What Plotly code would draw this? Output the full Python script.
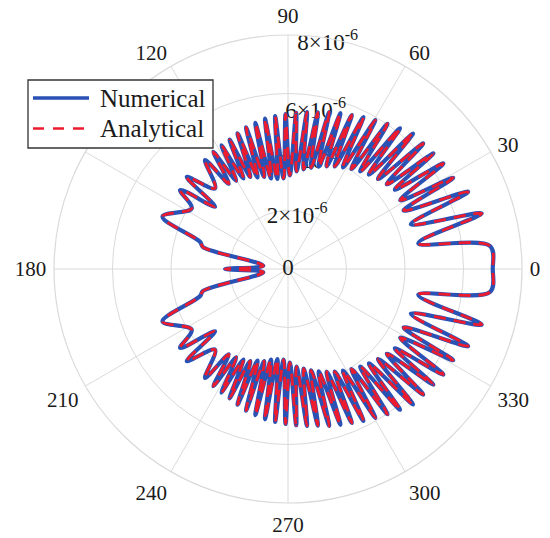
import plotly.graph_objects as go

# Turning points of the far-field pattern over the upper half-plane (deg, units of 1e-6)
theta_upper = [0, 6.5, 11.2, 16.0, 20.0, 23.2, 26.8, 28.9, 31.5, 34.2, 36.6, 38.5, 40.6,
               42.9, 45.0, 47.3, 49.4, 51.5, 53.5, 55.6, 57.6, 59.6, 61.6, 63.6, 65.5,
               67.5, 69.4, 71.4, 73.3, 75.3, 77.2, 79.2, 81.1, 83.1, 85.0, 87.0, 88.9,
               90.9, 92.8, 94.8, 96.7, 98.7, 100.6, 102.6, 104.5, 106.5, 108.4, 110.4,
               112.3, 114.3, 116.3, 118.3, 120.4, 122.5, 124.8, 127.3, 132.1, 137.7,
               139.5, 143.8, 147.8, 157.3, 162.8, 165.5, 172.5, 180.0]
r_upper = [7.00, 6.95, 4.54, 6.89, 4.47, 6.70, 4.43, 6.45, 4.50, 6.42, 4.55, 6.35, 4.45,
           6.31, 4.35, 6.30, 4.25, 6.15, 4.15, 6.02, 4.05, 5.90, 3.95, 5.80, 3.85,
           5.70, 3.75, 5.62, 3.65, 5.55, 3.55, 5.45, 3.45, 5.40, 3.35, 5.35, 3.20,
           5.30, 3.10, 5.25, 3.10, 5.20, 3.15, 5.12, 3.25, 5.05, 3.30, 4.95,
           3.40, 4.85, 3.45, 4.80, 3.50, 4.75, 3.55, 4.68, 3.72, 4.68,
           3.28, 4.57, 3.89, 4.65, 3.15, 3.00, 0.85, 2.15]

# The pattern is symmetric about the 0-180 axis
theta_full = theta_upper + [360 - t for t in reversed(theta_upper[:-1])]
r_full = [v * 1e-6 for v in r_upper + list(reversed(r_upper[:-1]))]

radial_ticks = [0, 2e-6, 4e-6, 6e-6, 8e-6]
radial_labels = ["0", "2×10<sup>-6</sup>", "4×10<sup>-6</sup>", "6×10<sup>-6</sup>", "8×10<sup>-6</sup>"]
label_r = [0, 1.80e-6, 3.70e-6, 5.45e-6, 7.80e-6]
label_theta = [0, 80, 80, 80, 80]
angle_ticks = [0, 30, 60, 90, 120, 150, 180, 210, 240, 270, 300, 330]
# the 150 label sits under the legend box
angle_labels = ["0", "30", "60", "90", "120", "", "180", "210", "240", "270", "300", "330"]
series_names = ["Numerical", "Analytical"]
series_colors = ["#2a52b5", "#ec1c2e"]

SERIF = "Liberation Serif, Times New Roman, serif"
GRID = "#dadada"
TEXT = "#1a1a1a"

# plot area in pixels: x 54..522, y 35..503 (468 px square)
def px(x):
    return (x - 54) / 468

def py(y):
    return (503 - y) / 468

fig = go.Figure()
fig.add_trace(go.Scatterpolar(
    r=label_r, theta=label_theta, mode="text", text=radial_labels,
    textposition="middle center", textfont=dict(family=SERIF, size=23, color=TEXT),
    showlegend=False, hoverinfo="skip"))
fig.add_trace(go.Scatterpolar(
    r=r_full, theta=theta_full, mode="lines", name=series_names[0], showlegend=False,
    line=dict(color=series_colors[0], width=4.2, shape="spline", smoothing=1)))
fig.add_trace(go.Scatterpolar(
    r=r_full, theta=theta_full, mode="lines", name=series_names[1], showlegend=False,
    line=dict(color=series_colors[1], width=2.8, dash="12px,8px", shape="spline", smoothing=1)))

# Legend box drawn with shapes and annotations
shapes = [
    dict(type="rect", xref="paper", yref="paper", x0=px(28), x1=px(213), y0=py(148), y1=py(80),
         line=dict(color="#333", width=1.3), fillcolor="white", layer="above"),
    dict(type="line", xref="paper", yref="paper", x0=px(33), x1=px(89), y0=py(98), y1=py(98),
         line=dict(color=series_colors[0], width=3.5), layer="above"),
    dict(type="line", xref="paper", yref="paper", x0=px(33), x1=px(89), y0=py(128.5), y1=py(128.5),
         line=dict(color=series_colors[1], width=2.5, dash="11px,9px"), layer="above"),
]
annotations = [
    dict(text=series_names[0], xref="paper", yref="paper", x=px(98), y=py(99), xanchor="left",
         yanchor="middle", showarrow=False, font=dict(family=SERIF, size=25, color=TEXT)),
    dict(text=series_names[1], xref="paper", yref="paper", x=px(98), y=py(129), xanchor="left",
         yanchor="middle", showarrow=False, font=dict(family=SERIF, size=25, color=TEXT)),
]

fig.update_layout(
    width=550, height=538,
    margin=dict(l=54, r=28, t=35, b=35, autoexpand=False),
    paper_bgcolor="white", plot_bgcolor="white",
    font=dict(family=SERIF, size=21, color=TEXT),
    shapes=shapes, annotations=annotations,
    showlegend=False,
    polar=dict(
        bgcolor="white",
        angularaxis=dict(
            tickmode="array", tickvals=angle_ticks, ticktext=angle_labels,
            direction="counterclockwise", rotation=0,
            showline=True, linecolor=GRID, linewidth=1.2,
            gridcolor=GRID, gridwidth=1,
            ticks="outside", ticklen=3, tickcolor="rgba(0,0,0,0)",
            tickfont=dict(family=SERIF, size=21, color=TEXT)),
        radialaxis=dict(
            range=[0, 8e-6], tickmode="array", tickvals=radial_ticks,
            showticklabels=False, ticks="", showline=False,
            gridcolor=GRID, gridwidth=1)),
)

fig.write_html("out.html")
